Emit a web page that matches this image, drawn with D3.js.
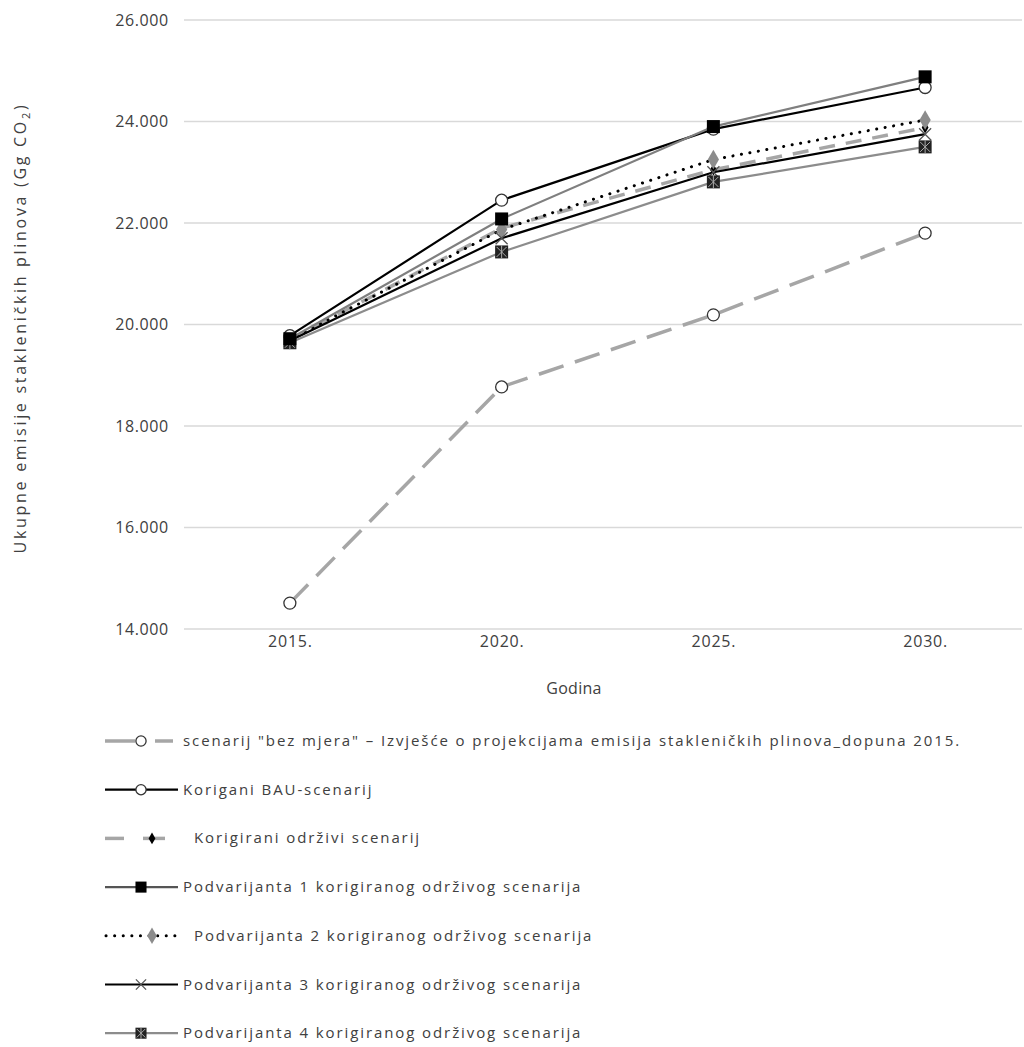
<!DOCTYPE html>
<html><head><meta charset="utf-8">
<script src="https://cdn.jsdelivr.net/npm/d3@7"></script>
<style>body{margin:0;background:#fff}svg{display:block}text{font-family:"Open Sans",sans-serif;fill:#404040}</style>
</head><body>
<script>
const years = ["2015.", "2020.", "2025.", "2030."];
const yTicks = [14000, 16000, 18000, 20000, 22000, 24000, 26000];
const seriesNames = [
  "scenarij \"bez mjera\"  – Izvješće o projekcijama emisija stakleničkih plinova_dopuna 2015.",
  "Korigani BAU-scenarij",
  "Korigirani održivi scenarij",
  "Podvarijanta 1 korigiranog održivog scenarija",
  "Podvarijanta 2 korigiranog održivog scenarija",
  "Podvarijanta 3 korigiranog održivog scenarija",
  "Podvarijanta 4 korigiranog održivog scenarija"
];
const bezMjera = [14510, 18770, 20190, 21800];
const bau = [19780, 22450, 23850, 24670];
const odrzivi = [19700, 21900, 23050, 23880];
const pod1 = [19720, 22080, 23900, 24880];
const pod2 = [19700, 21870, 23250, 24030];
const pod3 = [19680, 21700, 23000, 23750];
const pod4 = [19640, 21430, 22810, 23500];

const styles = [
  {color:"#a6a6a6", width:3.5, dash:"26,12", marker:"circle"},
  {color:"#000", width:2.2, dash:null, marker:"circle"},
  {color:"#a6a6a6", width:3.5, dash:"16,11", marker:"smalldiamond"},
  {color:"#7f7f7f", width:2.2, dash:null, marker:"square"},
  {color:"#000", width:3, dash:"0.1,8.5", marker:"diamond"},
  {color:"#000", width:2.2, dash:null, marker:"x"},
  {color:"#8c8c8c", width:2.2, dash:null, marker:"squarex"}
];
const allData = [bezMjera, bau, odrzivi, pod1, pod2, pod3, pod4];

const W = 1024, H = 1047;
const svg = d3.select("body").append("svg").attr("width", W).attr("height", H);
const x = d3.scalePoint().domain(years).range([184, 1031]).padding(0.5);
const y = d3.scaleLinear().domain([14000, 26000]).range([629, 20]);
const fmt = v => d3.format(",")(v).replace(",", ".");

// gridlines
svg.append("g").selectAll("line").data(yTicks).join("line")
  .attr("x1", 184).attr("x2", 1022).attr("y1", d => y(d)).attr("y2", d => y(d))
  .attr("stroke", "#d9d9d9").attr("stroke-width", 1.3);

// y axis labels
const yAxis = d3.axisLeft(y).tickValues(yTicks).tickFormat(fmt).tickSize(0).tickPadding(0);
const ga = svg.append("g").attr("transform", "translate(142,0)").call(yAxis);
ga.select(".domain").remove();
ga.selectAll("text").attr("font-size", 16).attr("font-family", "Open Sans").attr("fill", "#404040").attr("text-anchor", "middle").attr("dx", 0).attr("letter-spacing", 0.6);

const xAxis = d3.axisBottom(x).tickSize(0).tickPadding(0);
const gx = svg.append("g").attr("transform", "translate(0,636)").call(xAxis);
gx.select(".domain").remove();
gx.selectAll("text").attr("font-size", 16).attr("font-family", "Open Sans").attr("fill", "#404040").attr("letter-spacing", 0.8);

svg.append("text").attr("x", 574).attr("y", 694).attr("text-anchor", "middle").attr("font-size", 16).attr("letter-spacing", 0.3).text("Godina");
const yl = svg.append("text").attr("transform", "translate(26,328) rotate(-90)").attr("text-anchor", "middle").attr("font-size", 16).attr("letter-spacing", 2.7);
yl.append("tspan").text("Ukupne emisije stakleničkih plinova (Gg CO");
yl.append("tspan").attr("font-size", 11).attr("dy", 4).text("2");
yl.append("tspan").attr("dy", -4).text(")");

function drawMarker(g, type, cx, cy, sc) {
  sc = sc || 1;
  if (type === "circle") {
    g.append("circle").attr("cx", cx).attr("cy", cy).attr("r", 6*sc).attr("fill", "#fff").attr("stroke", "#333").attr("stroke-width", 1.3);
  } else if (type === "square") {
    const h = 6.5*sc;
    g.append("rect").attr("x", cx-h).attr("y", cy-h).attr("width", 2*h).attr("height", 2*h).attr("fill", "#000");
  } else if (type === "smalldiamond") {
    g.append("path").attr("d", d3.symbol(d3.symbolDiamond, 40)()).attr("transform", `translate(${cx},${cy})`).attr("fill", "#000");
  } else if (type === "diamond") {
    g.append("path").attr("d", d3.symbol(d3.symbolDiamond, 110*sc*sc)()).attr("transform", `translate(${cx},${cy})`).attr("fill", "#8c8c8c");
  } else if (type === "x") {
    const h = 6*sc;
    g.append("path").attr("d", `M${cx-h},${cy-h}L${cx+h},${cy+h}M${cx-h},${cy+h}L${cx+h},${cy-h}`).attr("stroke", "#555").attr("stroke-width", 1.3).attr("fill", "none");
  } else if (type === "squarex") {
    const h = 6.5*sc, k = 5*sc;
    g.append("rect").attr("x", cx-h).attr("y", cy-h).attr("width", 2*h).attr("height", 2*h).attr("fill", "#222");
    g.append("path").attr("d", `M${cx-k},${cy-k}L${cx+k},${cy+k}M${cx-k},${cy+k}L${cx+k},${cy-k}M${cx},${cy-h}L${cx},${cy+h}`).attr("stroke", "#aaa").attr("stroke-width", 1).attr("fill", "none");
  }
}

const line = d3.line().x((d, i) => x(years[i])).y(d => y(d));
const order = [0, 2, 4, 5, 6, 1, 3];
order.forEach(k => {
  const s = styles[k];
  const g = svg.append("g");
  g.append("path").attr("d", line(allData[k])).attr("fill", "none").attr("stroke", s.color)
    .attr("stroke-width", s.width).attr("stroke-dasharray", s.dash).attr("stroke-linecap", k === 4 ? "round" : "butt");
  allData[k].forEach((v, i) => drawMarker(g, s.marker, x(years[i]), y(v)));
});

// legend
const legY0 = 741, legStep = 48.7;
seriesNames.forEach((name, k) => {
  const s = styles[k];
  const ly = legY0 + k * legStep;
  const g = svg.append("g");
  let mx = 141, tx = 183;
  if (k === 0) {
    g.append("line").attr("x1", 105).attr("x2", 135).attr("y1", ly).attr("y2", ly).attr("stroke", s.color).attr("stroke-width", s.width);
    g.append("line").attr("x1", 155).attr("x2", 173).attr("y1", ly).attr("y2", ly).attr("stroke", s.color).attr("stroke-width", s.width);
  } else if (k === 2) {
    mx = 152; tx = 194;
    g.append("line").attr("x1", 105).attr("x2", 124).attr("y1", ly).attr("y2", ly).attr("stroke", s.color).attr("stroke-width", s.width);
    g.append("line").attr("x1", 143).attr("x2", 165).attr("y1", ly).attr("y2", ly).attr("stroke", s.color).attr("stroke-width", s.width);
  } else if (k === 4) {
    mx = 152; tx = 194;
    g.append("line").attr("x1", 106).attr("x2", 181).attr("y1", ly).attr("y2", ly)
      .attr("stroke", s.color).attr("stroke-width", s.width).attr("stroke-dasharray", s.dash).attr("stroke-linecap", "round");
  } else {
    g.append("line").attr("x1", 105).attr("x2", 178).attr("y1", ly).attr("y2", ly)
      .attr("stroke", k === 3 ? "#555" : s.color).attr("stroke-width", s.width);
  }
  drawMarker(g, s.marker, mx, ly, 0.85);
  g.append("text").attr("x", tx).attr("y", ly + 5).attr("font-size", 15).attr("letter-spacing", 1.9).text(name);
});
</script>
</body></html>
